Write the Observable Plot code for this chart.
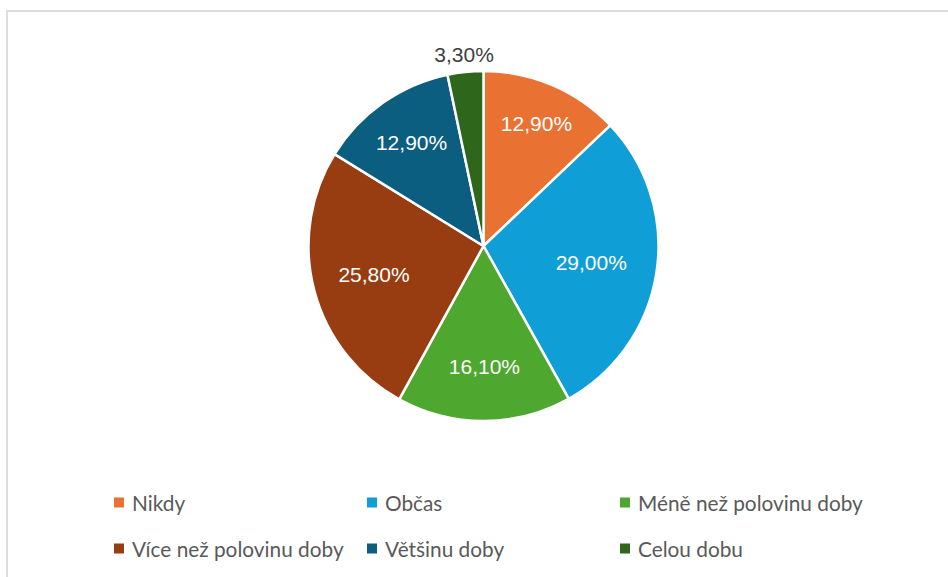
<!DOCTYPE html>
<html>
<head>
<meta charset="utf-8">
<script src="https://cdn.jsdelivr.net/npm/d3@7"></script>
<script src="https://cdn.jsdelivr.net/npm/@observablehq/plot@0.6"></script>
<style>
  html, body { margin: 0; padding: 0; background: #fff; }
  #wrap { position: relative; width: 948px; height: 577px; overflow: hidden; }
  #frame { position: absolute; left: 6px; top: 10px; width: 1000px; height: 700px;
           border-left: 2px solid #dcdcdc; border-top: 2px solid #dcdcdc; box-sizing: border-box; }
  #chart { position: absolute; left: 0; top: 0; }
  .legend { position: absolute; left: 0; top: 0; width: 948px; font-family: Lato, "Noto Sans", sans-serif;
            font-size: 20.8px; color: #595959; }
  .item { position: absolute; display: flex; align-items: center; white-space: nowrap; transform: translateY(-50%); }
  .sw { width: 10px; height: 10px; margin-right: 8px; }
</style>
</head>
<body>
<div id="wrap">
  <div id="frame"></div>
  <div id="chart"></div>
  <div class="legend" id="legend"></div>
</div>
<script>
const categories = ["Nikdy", "Občas", "Méně než polovinu doby", "Více než polovinu doby", "Většinu doby", "Celou dobu"];
const values = [12.9, 29.0, 16.1, 25.8, 12.9, 3.3];
const colors = ["#E97132", "#0F9ED5", "#4EA72E", "#973D11", "#0B5E7F", "#2E661C"];

// layout: label distance from centre (fraction of radius), inside/outside
const labelRadius = [0.76, 0.62, 0.69, 0.65, 0.72, 1.10];
const labelInside = [true, true, true, true, true, false];

const fmt = v => v.toFixed(2).replace(".", ",") + "%";

const arcs = d3.pie().sort(null).value(d => d)(values);
const slices = arcs.map((a, i) => ({
  name: categories[i], value: values[i], color: colors[i],
  start: a.startAngle, end: a.endAngle
}));
const labels = slices.map((s, i) => {
  const m = (s.start + s.end) / 2;
  return {
    label: fmt(s.value),
    x: Math.sin(m) * labelRadius[i],
    y: Math.cos(m) * labelRadius[i],
    fill: labelInside[i] ? "white" : "#404040"
  };
});

const pieMark = (index, scales) => {
  const cx = scales.x(0), cy = scales.y(0);
  const r = scales.x(1) - scales.x(0);
  const arc = d3.arc().innerRadius(0).outerRadius(r);
  const g = d3.create("svg:g").attr("transform", `translate(${cx},${cy})`);
  g.selectAll("path").data(slices).join("path")
    .attr("d", d => arc({startAngle: d.start, endAngle: d.end}))
    .attr("fill", d => d.color)
    .attr("stroke", "white")
    .attr("stroke-width", 2.5)
    .attr("stroke-linejoin", "round");
  return g.node();
};

const chart = Plot.plot({
  width: 948,
  height: 470,
  margin: 0,
  x: {domain: [-1, 1], range: [483.5 - 175, 483.5 + 175], axis: null},
  y: {domain: [-1, 1], range: [421, 71], axis: null},
  marks: [
    pieMark,
    Plot.text(labels, {
      x: "x", y: "y", text: "label", fill: d => d.fill,
      fontSize: 21, fontFamily: "'Liberation Sans', Arial, sans-serif"
    })
  ]
});
document.getElementById("chart").appendChild(chart);

// legend
const legendPos = [[114, 502], [367, 502], [620, 502], [114, 548], [367, 548], [620, 548]];
const legend = document.getElementById("legend");
categories.forEach((c, i) => {
  const it = document.createElement("div");
  it.className = "item";
  it.style.left = legendPos[i][0] + "px";
  it.style.top = legendPos[i][1] + "px";
  const sw = document.createElement("span");
  sw.className = "sw";
  sw.style.background = colors[i];
  const t = document.createElement("span");
  t.textContent = c;
  it.appendChild(sw); it.appendChild(t);
  legend.appendChild(it);
});
</script>
</body>
</html>
